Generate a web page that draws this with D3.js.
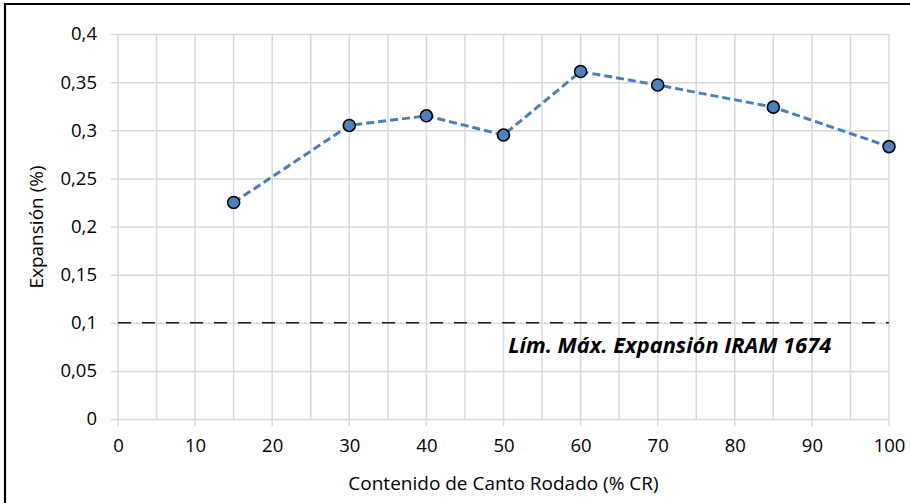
<!DOCTYPE html>
<html lang="es">
<head>
<meta charset="UTF-8">
<title>Expansión vs Canto Rodado</title>
<style>
  body { margin: 0; background: #fff; }
  svg text { font-family: "Open Sans", "Noto Sans", sans-serif; fill: #000; }
</style>
</head>
<body>
<script src="https://cdn.jsdelivr.net/npm/d3@7"></script>
<script>
  // data
  const contenidoCR = [15, 30, 40, 50, 60, 70, 85, 100];
  const expansion = [0.225, 0.305, 0.315, 0.295, 0.361, 0.347, 0.324, 0.283];
  const limiteIRAM = 0.1;
  const limiteLabel = "Lím. Máx. Expansión IRAM 1674";
  const xTicks = [0, 10, 20, 30, 40, 50, 60, 70, 80, 90, 100];
  const xGrid = d3.range(0, 101, 5);
  const yTicks = [0, 0.05, 0.1, 0.15, 0.2, 0.25, 0.3, 0.35, 0.4];

  const W = 910, H = 503;
  const m = { left: 118, right: 21, top: 34, bottom: 84 };
  const w = W - m.left - m.right, h = H - m.top - m.bottom;

  const svg = d3.select("body").append("svg")
    .attr("width", W).attr("height", H);

  // outer frame (only top and left visible in the crop)
  svg.append("path")
    .attr("d", "M5," + (H + 5) + "V4H" + (W + 5))
    .attr("fill", "none").attr("stroke", "#000").attr("stroke-width", 2.2);

  const x = d3.scaleLinear().domain([0, 100]).range([0, w]);
  const y = d3.scaleLinear().domain([0, 0.4]).range([h, 0]);
  const fmt = d => String(+d.toFixed(2)).replace(".", ",");

  const g = svg.append("g").attr("transform", `translate(${m.left},${m.top})`);
  const gridColor = "#d9d9d9";

  // vertical gridlines every 5
  g.append("g").selectAll("line").data(xGrid).join("line")
    .attr("x1", d => x(d)).attr("x2", d => x(d))
    .attr("y1", 0).attr("y2", d => d % 10 === 0 ? h + 7 : h)
    .attr("stroke", gridColor).attr("stroke-width", 1.5);

  // y axis with horizontal gridlines
  const yAxis = g.append("g")
    .call(d3.axisLeft(y).tickValues(yTicks).tickFormat(fmt).tickSize(-w).tickSizeOuter(0).tickPadding(21));
  yAxis.select(".domain").remove();
  yAxis.selectAll(".tick line").attr("x1", -7).attr("stroke", gridColor).attr("stroke-width", 1.5);
  yAxis.selectAll(".tick text").attr("font-size", 18.5).attr("font-family", "Open Sans");

  // x axis labels
  const xAxis = g.append("g").attr("transform", `translate(0,${h})`)
    .call(d3.axisBottom(x).tickValues(xTicks).tickSize(0).tickPadding(20));
  xAxis.select(".domain").remove();
  xAxis.selectAll(".tick text").attr("font-size", 18.5).attr("font-family", "Open Sans");

  // reference limit line
  g.append("line")
    .attr("x1", x(0)).attr("x2", x(100))
    .attr("y1", y(limiteIRAM)).attr("y2", y(limiteIRAM))
    .attr("stroke", "#1a1a1a").attr("stroke-width", 1.6)
    .attr("stroke-dasharray", "13,11");

  g.append("text")
    .attr("x", x(92.5)).attr("y", y(limiteIRAM) + 30)
    .attr("text-anchor", "end")
    .attr("font-size", 22).attr("font-weight", "bold").attr("font-style", "italic")
    .attr("textLength", 323).attr("lengthAdjust", "spacingAndGlyphs")
    .text(limiteLabel);

  // data series
  const pts = contenidoCR.map((c, i) => [c, expansion[i]]);
  g.append("path")
    .datum(pts)
    .attr("d", d3.line().x(d => x(d[0])).y(d => y(d[1])))
    .attr("fill", "none").attr("stroke", "#4a7ebb").attr("stroke-width", 3)
    .attr("stroke-dasharray", "8,4");

  g.append("g").selectAll("circle").data(pts).join("circle")
    .attr("cx", d => x(d[0])).attr("cy", d => y(d[1])).attr("r", 6)
    .attr("fill", "#4f81bd").attr("stroke", "#000").attr("stroke-width", 1.6);

  // axis titles
  svg.append("text")
    .attr("x", m.left + w / 2 + 0).attr("y", 490)
    .attr("text-anchor", "middle").attr("font-size", 19)
    .text("Contenido de Canto Rodado (% CR)");

  svg.append("text")
    .attr("transform", "translate(43,227) rotate(-90)")
    .attr("text-anchor", "middle").attr("font-size", 19)
    .text("Expansión (%)");
</script>
</body>
</html>
